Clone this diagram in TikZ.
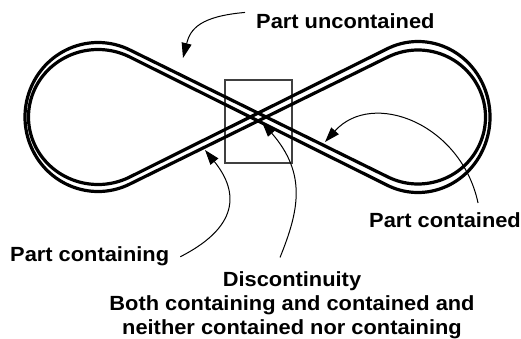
\documentclass[tikz,border=0pt]{standalone}
\usepackage{fontspec}
\newfontfamily\lblfont{Liberation Sans Bold}[FakeStretch=1.065]
\usepackage{tikz}
\usetikzlibrary{calc}
\usetikzlibrary{arrows.meta}

\begin{document}
\begin{tikzpicture}[x=1pt,y=1pt]
		\tikzset{track/.style={line width=3.2pt},
		         pointer/.style={-{Triangle[length=15pt,width=10pt]},line width=1pt},
		         lbl/.style={inner sep=0pt,font=\lblfont\fontsize{20.5}{24}\selectfont}}
		\useasboundingbox (0,0) rectangle (521,339);
		\coordinate (cl) at (98,222);
		\coordinate (cr) at (418,222);
		
		\node (box) at (258.5,217.5) [draw=black!75,line width=1.2pt,minimum width=67pt,minimum height=83pt,inner sep=0pt] {};
		
		%the two lines of the band
		\draw[track] ($(cl)+(63.66:73 and 74.5)$) -- ($(cr)+(-116.34:67.5 and 67)$)
		  arc[start angle=-116.34,end angle=116.34,x radius=67.5,y radius=67]
		  -- ($(cl)+(-63.66:73 and 74.5)$)
		  arc[start angle=-63.66,end angle=-296.34,x radius=73,y radius=74.5] -- cycle;
		\draw[track] ($(cl)+(63.66:69.5 and 67.5)$) -- ($(cr)+(-116.34:72 and 75.5)$)
		  arc[start angle=-116.34,end angle=116.34,x radius=72,y radius=75.5]
		  -- ($(cl)+(-63.66:69.5 and 67.5)$)
		  arc[start angle=-63.66,end angle=-296.34,x radius=69.5,y radius=67.5] -- cycle;
		
		\node (unc) at (256,310) [lbl,anchor=base west] {Part uncontained};
		\node (cont) at (369,111) [lbl,anchor=base west] {Part contained};
		\node (cing) at (10,77) [lbl,anchor=base west] {Part containing};
		\node (disc) at (292,67.5) [lbl,anchor=north,align=center] {Discontinuity\\Both containing and contained and\\neither contained nor containing};
		
		\coordinate (t1) at (183,281);
		\coordinate (t2) at (325,197);
		\coordinate (t3) at (205,189);
		\coordinate (t4) at (262,217);
		
		%Arrows
		\draw[pointer] ([xshift=-11pt,yshift=1.5pt]unc.north west) .. controls +(185:44.8) and +(76:30.1) .. (t1);
		\draw[pointer] ([xshift=33pt,yshift=10pt]cont.north) .. controls +(102:80.9) and +(48:71) .. (t2);
		\draw[pointer] ([xshift=11pt]cing.east) .. controls +(27:72.7) and +(-51:47.6) .. (t3);
		\draw[pointer] ([xshift=-12pt,yshift=14pt]disc.north) .. controls +(68:50.3) and +(-49:68.8) .. (t4);
	\end{tikzpicture}
\end{document}
